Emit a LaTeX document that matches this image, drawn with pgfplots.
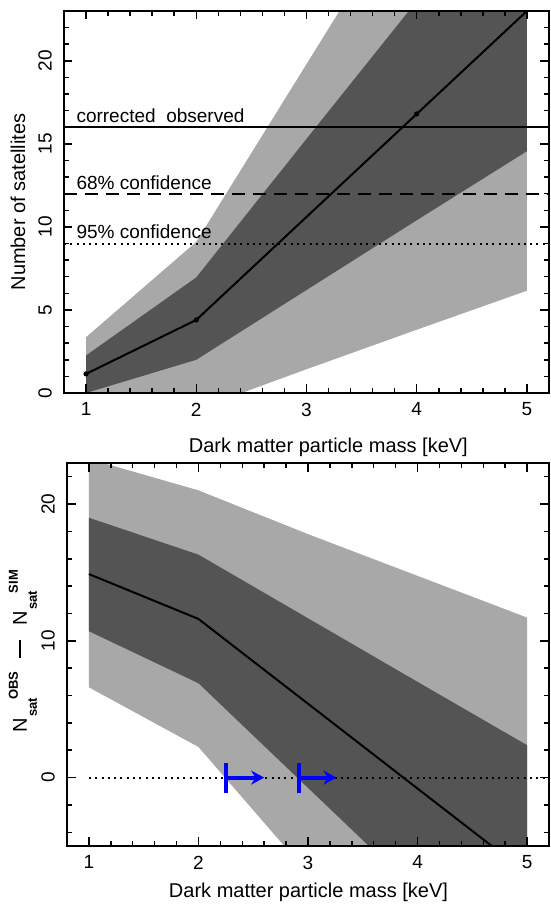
\documentclass[border=0pt]{standalone}
\usepackage{fontspec}
\setmainfont{Liberation Sans}
\usepackage{pgfplots}
\pgfplotsset{compat=1.18}
\usetikzlibrary{arrows.meta}

\definecolor{band95}{gray}{0.66}
\definecolor{band68}{gray}{0.33}

\newcommand{\subsup}{\fontsize{6.5}{7}\selectfont\bfseries}
\newcommand{\nsat}[1]{N\hspace{0.6pt}\raisebox{-5pt}{\subsup sat}\hspace{-1pt}\raisebox{4.5pt}{\subsup #1}}

\pgfplotsset{
  massaxis/.style={
    scale only axis,
    axis on top,
    xmin=0.8, xmax=5.2,
    xtick={1,2,3,4,5},
    minor xtick={1.2,1.4,1.6,1.8,2.2,2.4,2.6,2.8,3.2,3.4,3.6,3.8,4.2,4.4,4.6,4.8},
    tick align=inside,
    major tick length=4.25pt,
    minor tick length=2.5pt,
    every tick/.style={black, line width=0.75pt},
    axis line style={line width=1pt},
    /pgf/number format/assume math mode=true,
    tick label style={font=\fontsize{9.5}{11}\selectfont},
    xticklabel style={anchor=north, inner ysep=4.7pt},
    yticklabel style={rotate=90, anchor=south, inner ysep=5.9pt},
    label style={font=\fontsize{10}{12}\selectfont},
    xlabel={Dark matter particle mass [keV]},
  },
}

\begin{document}
\begin{tikzpicture}[x=1pt, y=1pt]
\useasboundingbox (0,0) rectangle (275.5,453.5);

% upper panel: number of satellites
\begin{axis}[
    massaxis,
    at={(32pt,257pt)}, anchor=south west,
    width=242.5pt, height=191pt,
    ymin=0, ymax=23,
    ytick={0,5,10,15,20},
    minor ytick={1,2,3,4,6,7,8,9,11,12,13,14,16,17,18,19,21,22},
    ylabel={Number of satellites},
    ylabel style={at={(axis description cs:-0.0804,0.5)}, anchor=base},
    xlabel style={at={(axis description cs:0.545,-0.157)}, anchor=base},
]
% 95% band
\addplot[fill=band95, draw=none] coordinates {
    (1,3.36) (2,9.1) (3,19.8) (4,30.5) (5,41)
    (5,6.16) (4,3.81) (3,1.43) (2,-1.0) (1,-3.0)
};
% 68% band
\addplot[fill=band68, draw=none] coordinates {
    (1,2.26) (2,6.96) (3,15.3) (4,23.6) (5,32)
    (5,14.56) (4,10.4) (3,6.2) (2,2.0) (1,0.0)
};
% median
\addplot[black, line width=1pt] coordinates {
    (1,1.15) (2,4.4) (3,10.6) (4,16.8) (5,23.0)
};
\addplot[only marks, mark=*, mark size=1.1pt, black] coordinates {
    (1,1.15) (2,4.4) (4,16.8)
};
% observed levels
\addplot[black, line width=0.8pt] coordinates {(0.8,16) (5.2,16)};
\addplot[black, line width=0.9pt, dash pattern=on 6.5pt off 4pt] coordinates {(0.8,12) (5.2,12)};
\addplot[black, line width=1pt, dash pattern=on 1pt off 2.15pt] coordinates {(0.8,9) (5.2,9)};
\node[anchor=base west, font=\fontsize{9.5}{11}\selectfont, inner sep=0pt] at (axis cs:0.91,16.28) {corrected\ \ observed};
\node[anchor=base west, font=\fontsize{9.5}{11}\selectfont, inner sep=0pt] at (axis cs:0.91,12.27) {68\% confidence};
\node[anchor=base west, font=\fontsize{9.5}{11}\selectfont, inner sep=0pt] at (axis cs:0.91,9.28) {95\% confidence};
\end{axis}

% lower panel: observed minus simulated
\begin{axis}[
    massaxis,
    at={(33.5pt,30.5pt)}, anchor=south west,
    width=241pt, height=191.5pt,
    ymin=-5, ymax=23,
    ytick={0,10,20},
    minor ytick={-4,-2,2,4,6,8,12,14,16,18,22},
    ylabel={\nsat{OBS}\hspace{7pt}\rule[2.8pt]{9pt}{1.1pt}\hspace{7pt}\nsat{SIM}},
    ylabel style={at={(axis description cs:-0.083,0.509)}, anchor=base},
    xlabel style={at={(axis description cs:0.501,-0.135)}, anchor=base},
]
\addplot[fill=band95, draw=none] coordinates {
    (1,23.3) (2,21.0) (3,17.8) (4,14.75) (5,11.7)
    (5,-25) (4,-16) (3,-7.0) (2,2.24) (1,6.6)
};
\addplot[fill=band68, draw=none] coordinates {
    (1,19.0) (2,16.3) (3,11.65) (4,7.0) (5,2.37)
    (5,-16) (4,-8.4) (3,-0.75) (2,6.9) (1,10.7)
};
\addplot[black, line width=1pt] coordinates {
    (1,14.88) (2,11.6) (3,5.4) (4,-0.8) (5,-7.0)
};
\addplot[black, line width=1pt, dash pattern=on 1pt off 2.15pt] coordinates {(1,0) (5.2,0)};
% lower mass limits
\addplot[blue, line width=2pt] coordinates {(2.25,-1.1) (2.25,1.1)};
\addplot[blue, line width=2pt, -{Stealth[length=6.5pt, width=7pt]}] coordinates {(2.25,0) (2.60,0)};
\addplot[blue, line width=2pt] coordinates {(2.92,-1.1) (2.92,1.1)};
\addplot[blue, line width=2pt, -{Stealth[length=6.5pt, width=7pt]}] coordinates {(2.92,0) (3.26,0)};
\end{axis}
\end{tikzpicture}
\end{document}
